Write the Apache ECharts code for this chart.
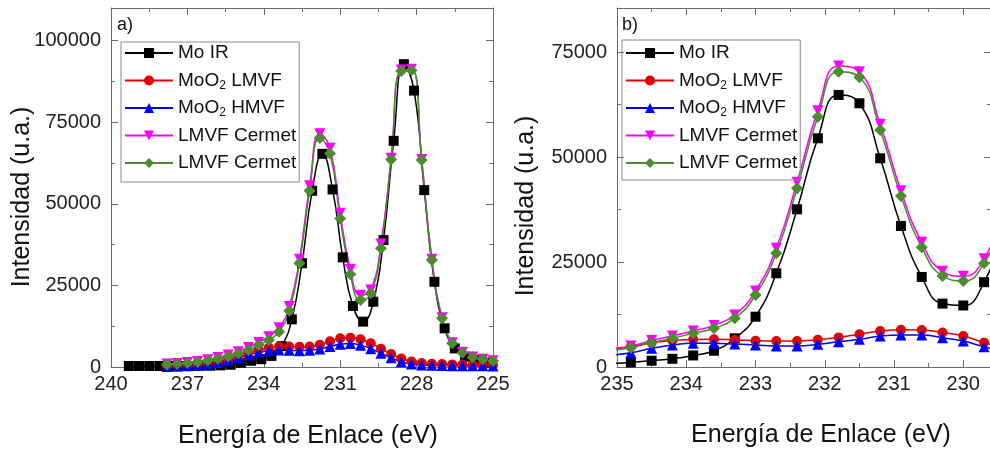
<!DOCTYPE html>
<html><head><meta charset="utf-8">
<script src="https://cdn.jsdelivr.net/npm/echarts@6/dist/echarts.min.js"></script>
<style>html,body{margin:0;padding:0;background:#fff}#c{width:990px;height:453px}</style>
</head><body><div id="c"></div>
<script>
// ---------- DATA ----------
const seriesNames = ['Mo IR', 'MoO2 LMVF', 'MoO2 HMVF', 'LMVF Cermet', 'LMVF Cermet (2)'];

// Panel a) — binding energy (eV)
const xA_mo = [239.3, 238.9, 238.5, 238.1, 237.7, 237.3, 236.9, 236.5, 236.1, 235.7, 235.3, 234.9, 234.5, 234.1, 233.7, 233.3, 232.9, 232.5, 232.1, 231.7, 231.3, 230.9, 230.5, 230.1, 229.7, 229.3, 228.9, 228.5, 228.1, 227.7, 227.3, 226.9, 226.5, 226.1, 225.7, 225.3];
const moIrA = [300, 300, 300, 300, 300, 300, 300, 350, 400, 500, 700, 1300, 1900, 2400, 3400, 6400, 14600, 31800, 54000, 65300, 54400, 33600, 18700, 13900, 20000, 38900, 69300, 92800, 84700, 54200, 26100, 11850, 5700, 3170, 2140, 1330];
const xA = [237.8, 237.4, 237.0, 236.6, 236.2, 235.8, 235.4, 235.0, 234.6, 234.2, 233.8, 233.4, 233.0, 232.6, 232.2, 231.8, 231.4, 231.0, 230.6, 230.2, 229.8, 229.4, 229.0, 228.6, 228.2, 227.8, 227.4, 227.0, 226.6, 226.2, 225.8, 225.4, 225.0];
const lmvfA = [200, 300, 450, 700, 1000, 1500, 2200, 3100, 4200, 5200, 5900, 6300, 6300, 6200, 6300, 6800, 7900, 8800, 9000, 8500, 7300, 5600, 4000, 2600, 1700, 1200, 1000, 900, 800, 750, 700, 650, 600];
const hmvfA = [150, 250, 400, 600, 900, 1400, 2000, 2800, 3700, 4500, 5000, 5200, 5100, 5000, 5100, 5500, 6300, 7000, 7200, 6700, 5600, 4200, 2800, 1600, 900, 600, 500, 450, 400, 380, 360, 350, 340];
const cermet1A = [900, 1100, 1350, 1700, 2250, 2900, 3700, 4700, 6000, 7500, 9300, 12000, 18500, 33000, 55500, 71500, 67000, 47100, 29900, 22000, 23600, 37700, 64000, 91000, 91200, 63600, 33000, 15100, 7400, 4500, 3050, 2400, 1880];
const cermet2A = [800, 1000, 1200, 1500, 2000, 2500, 3200, 4100, 5200, 6740, 8300, 10800, 17250, 31800, 54000, 70200, 65400, 45500, 28400, 20500, 22600, 36400, 63600, 90700, 90900, 63400, 32800, 14900, 7250, 4400, 2970, 2360, 1840];

// Panel b) — zoom on the first peak
const xB = [235.1, 234.8, 234.5, 234.2, 233.9, 233.6, 233.3, 233.0, 232.7, 232.4, 232.1, 231.8, 231.5, 231.2, 230.9, 230.6, 230.3, 230.0, 229.7, 229.4];
const moIrB = [850, 1100, 1500, 1950, 2750, 3880, 6840, 11980, 22320, 37560, 54470, 64790, 62810, 49710, 33590, 21450, 15100, 14650, 20200, 33000];
const lmvfB = [4000, 4840, 5800, 6300, 6550, 6600, 6450, 6270, 6200, 6200, 6500, 7050, 7800, 8550, 8850, 8800, 8200, 7400, 5800, 4500];
const hmvfB = [2800, 3410, 4450, 5240, 5640, 5640, 5480, 5240, 5000, 5000, 5400, 6030, 6590, 7380, 7620, 7620, 6980, 6190, 4840, 3800];
const cermet1B = [4400, 5000, 6300, 7400, 8600, 9900, 12400, 18100, 28300, 44000, 61000, 71700, 70300, 57800, 42000, 29700, 22800, 21600, 25800, 37700];
const cermet2B = [4000, 4600, 5790, 6840, 8030, 9220, 11600, 17150, 27080, 42570, 59620, 70340, 69010, 56450, 40730, 28510, 21680, 20490, 24700, 36000];

// Tick values
const xMajorA = [225, 228, 231, 234, 237, 240];
const xMinorA = [226.5, 229.5, 232.5, 235.5, 238.5];
const yMajorA = [0, 25000, 50000, 75000, 100000];
const yMinorA = [12500, 37500, 62500, 87500];
const xMajorB = [230, 231, 232, 233, 234, 235];
const xMinorB = [230.5, 231.5, 232.5, 233.5, 234.5];
const yMajorB = [0, 25000, 50000, 75000];
const yMinorB = [12500, 37500, 62500];

// ---------- STYLE ----------
const FONT = "'Liberation Sans', Arial, Helvetica, sans-serif";
const AXIS_COLOR = '#6b6b6b';
const LABEL_COLOR = '#222';
const seriesStyle = {
  'Mo IR':           { color: '#000000', symbol: 'rect',     size: 10, rotate: 0 },
  'MoO2 LMVF':       { color: '#e60000', symbol: 'circle',   size: 10, rotate: 0 },
  'MoO2 HMVF':       { color: '#0000ff', symbol: 'triangle', size: 11, rotate: 0 },
  'LMVF Cermet':     { color: '#ff00ff', symbol: 'triangle', size: 11, rotate: 180 },
  'LMVF Cermet (2)': { color: '#4d8b2e', symbol: 'diamond',  size: 12, rotate: 0 }
};
const legendText = {
  'Mo IR': 'Mo IR',
  'MoO2 LMVF': 'MoO{s|2} LMVF',
  'MoO2 HMVF': 'MoO{s|2} HMVF',
  'LMVF Cermet': 'LMVF Cermet',
  'LMVF Cermet (2)': 'LMVF Cermet'
};

// ---------- AXES ----------
function xAxes(grid, min, max, majors, minors) {
  const base = { type: 'value', gridIndex: grid, min: min, max: max, inverse: true, splitLine: { show: false }, minorTick: { show: false } };
  const line = { show: true, onZero: false, lineStyle: { color: AXIS_COLOR, width: 1 } };
  const noLine = { show: false, onZero: false };
  return [
    Object.assign({}, base, { position: 'bottom', axisLine: line,
      axisTick: { show: true, inside: true, length: 7, customValues: majors, lineStyle: { color: AXIS_COLOR } },
      axisLabel: { show: true, customValues: majors, formatter: v => String(v), fontSize: 20, fontFamily: FONT, color: LABEL_COLOR, margin: 7 } }),
    Object.assign({}, base, { position: 'bottom', axisLine: noLine,
      axisTick: { show: true, inside: true, length: 4, customValues: minors, lineStyle: { color: AXIS_COLOR } },
      axisLabel: { show: false } }),
    Object.assign({}, base, { position: 'top', axisLine: line,
      axisTick: { show: true, inside: true, length: 7, customValues: majors, lineStyle: { color: AXIS_COLOR } },
      axisLabel: { show: false } }),
    Object.assign({}, base, { position: 'top', axisLine: noLine,
      axisTick: { show: true, inside: true, length: 4, customValues: minors, lineStyle: { color: AXIS_COLOR } },
      axisLabel: { show: false } })
  ];
}
function yAxes(grid, min, max, majors, minors) {
  const base = { type: 'value', gridIndex: grid, min: min, max: max, splitLine: { show: false }, minorTick: { show: false } };
  const line = { show: true, onZero: false, lineStyle: { color: AXIS_COLOR, width: 1 } };
  const noLine = { show: false, onZero: false };
  return [
    Object.assign({}, base, { position: 'left', axisLine: line,
      axisTick: { show: true, inside: true, length: 7, customValues: majors, lineStyle: { color: AXIS_COLOR } },
      axisLabel: { show: true, customValues: majors, formatter: v => String(v), fontSize: 20, fontFamily: FONT, color: LABEL_COLOR, margin: 10 } }),
    Object.assign({}, base, { position: 'left', axisLine: noLine,
      axisTick: { show: true, inside: true, length: 4, customValues: minors, lineStyle: { color: AXIS_COLOR } },
      axisLabel: { show: false } }),
    Object.assign({}, base, { position: 'right', axisLine: line,
      axisTick: { show: true, inside: true, length: 7, customValues: majors, lineStyle: { color: AXIS_COLOR } },
      axisLabel: { show: false } }),
    Object.assign({}, base, { position: 'right', axisLine: noLine,
      axisTick: { show: true, inside: true, length: 4, customValues: minors, lineStyle: { color: AXIS_COLOR } },
      axisLabel: { show: false } })
  ];
}

// ---------- SERIES ----------
function mk(name, xs, ys, panel) {
  const s = seriesStyle[name];
  return {
    type: 'line', name: name,
    xAxisIndex: panel * 4, yAxisIndex: panel * 4,
    data: xs.map((x, i) => [x, ys[i]]),
    smooth: 0.5,
    symbol: s.symbol, symbolSize: s.size, symbolRotate: s.rotate,
    itemStyle: { color: s.color },
    lineStyle: { color: s.color, width: 1.5 },
    clip: true
  };
}
const series = [
  mk('Mo IR', xA_mo, moIrA, 0),
  mk('MoO2 LMVF', xA, lmvfA, 0),
  mk('MoO2 HMVF', xA, hmvfA, 0),
  mk('LMVF Cermet', xA, cermet1A, 0),
  mk('LMVF Cermet (2)', xA, cermet2A, 0),
  mk('Mo IR', xB, moIrB, 1),
  mk('MoO2 LMVF', xB, lmvfB, 1),
  mk('MoO2 HMVF', xB, hmvfB, 1),
  mk('LMVF Cermet', xB, cermet1B, 1),
  mk('LMVF Cermet (2)', xB, cermet2B, 1)
];

function legend(left, top, padding) {
  return {
    data: seriesNames, orient: 'vertical', left: left, top: top, padding: padding,
    itemWidth: 48, itemHeight: 12.5, itemGap: 5.5, selectedMode: false,
    borderColor: '#8a8a8a', borderWidth: 1, backgroundColor: 'transparent',
    formatter: n => legendText[n],
    textStyle: {
      fontSize: 19, fontFamily: FONT, color: '#111', lineHeight: 22,
      rich: { s: { fontSize: 12, fontFamily: FONT, color: '#111', lineHeight: 3, verticalAlign: 'bottom' } }
    }
  };
}

function txt(text, x, y, size, rot, align) {
  return { type: 'text', x: x, y: y, rotation: rot, silent: true,
    style: { text: text, fontSize: size, fontFamily: FONT, fill: '#111',
      align: align, textAlign: align, verticalAlign: 'middle', textVerticalAlign: 'middle' } };
}

const option = {
  animation: false,
  backgroundColor: '#ffffff',
  grid: [
    { left: 111, top: 8, width: 382, height: 359, containLabel: false, outerBoundsMode: 'none' },
    { left: 617, top: 8, width: 374, height: 359, containLabel: false, outerBoundsMode: 'none' }
  ],
  xAxis: xAxes(0, 225, 240, xMajorA, xMinorA).concat(xAxes(1, 229.6, 235, xMajorB, xMinorB)),
  yAxis: yAxes(0, 0, 110000, yMajorA, yMinorA).concat(yAxes(1, 0, 85500, yMajorB, yMinorB)),
  legend: [legend(121, 42, [0, 3, 8, 3]), legend(622, 40, [2, 3, 6, 3])],
  graphic: [
    txt('Intensidad (u.a.)', 22.5, 197, 25, Math.PI / 2, 'center'),
    txt('Intensidad (u.a.)', 526.5, 206, 25, Math.PI / 2, 'center'),
    txt('Energía de Enlace (eV)', 308, 436.5, 25, 0, 'center'),
    txt('Energía de Enlace (eV)', 821, 435, 25, 0, 'center'),
    txt('a)', 117, 25, 18, 0, 'left'),
    txt('b)', 622, 25, 18, 0, 'left')
  ],
  series: series
};

const chart = echarts.init(document.getElementById('c'), null, { renderer: 'canvas' });
chart.setOption(option);
</script></body></html>
